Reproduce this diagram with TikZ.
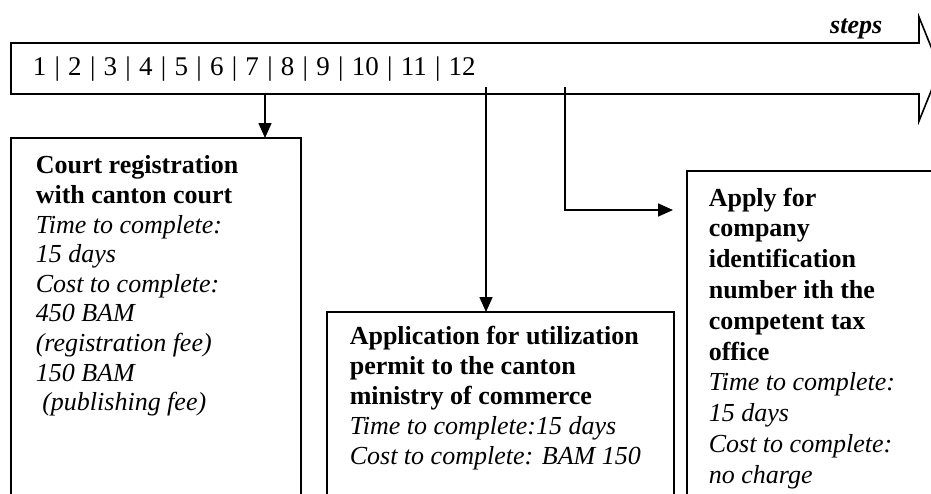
\documentclass[tikz,border=0pt]{standalone}
\usepackage{fontspec}
\setmainfont{Liberation Serif}
\usetikzlibrary{arrows.meta}

\begin{document}
\begin{tikzpicture}[x=1pt, y=-1pt, line width=1.6pt,
  box/.style={draw, rectangle, inner sep=0pt, outer sep=0pt, anchor=north west},
  txt/.style={inner sep=0pt, anchor=north west, align=left, font=\fontsize{26}{29.6}\selectfont},
  link/.style={-{Triangle[length=15pt,width=13pt]}}]
  \useasboundingbox (0,0) rectangle (931,493);
  \clip (0,0) rectangle (931,493);

  % band with the steps
  \draw (11,43) -- (919,43) -- (919,17) -- (940,69) -- (919,121) -- (919,94) -- (11,94) -- cycle;
  \node[txt, anchor=base east, font=\fontsize{26}{29.6}\selectfont\bfseries\itshape] (steps) at (883,33) {steps};
  \node[txt, anchor=base west, font=\fontsize{27}{30}\selectfont] (nums) at (32,75)
    {\makebox[443pt][s]{1 | 2 | 3 | 4 | 5 | 6 | 7 | 8 | 9 | 10 | 11 | 12}};

  \coordinate (s7)  at (265,94);
  \coordinate (s12) at (486,87);
  \coordinate (s13) at (565,87);

  % the three procedures
  \node[box, minimum width=290, minimum height=400] (court)  at (11,138) {};
  \node[box, minimum width=347, minimum height=250] (permit) at (327,312) {};
  \node[box, minimum width=300, minimum height=400] (taxid)  at (687,171) {};
  \coordinate (t13) at (673,210);

  \draw[link] (s7)  -- (s7 |- court.north);
  \draw[link] (s12) -- (s12 |- permit.north);
  \draw[link] (s13) |- (t13);

  \node[txt] (courttxt) at (35,155) {\textbf{Court registration}\\
    \textbf{with canton court}\\
    \textit{Time to complete:}\\
    \textit{15 days}\\
    \textit{Cost to complete:}\\
    \textit{450 BAM}\\
    \textit{(registration fee)}\\
    \textit{150 BAM}\\
    \hspace{0.25em}\textit{(publishing fee)}};
  \node[txt, font=\fontsize{26}{30}\selectfont] (permittxt) at (349,325) {\textbf{Application for utilization}\\
    \textbf{permit to the canton}\\
    \textbf{ministry of commerce}\\
    \textit{Time to complete:15 days}\\
    \textit{Cost to complete: BAM 150}};
  \node[txt, font=\fontsize{26}{30.8}\selectfont] (taxidtxt) at (708,187) {\textbf{Apply for}\\
    \textbf{company}\\
    \textbf{identification}\\
    \textbf{number ith the}\\
    \textbf{competent tax}\\
    \textbf{office}\\
    \textit{Time to complete:}\\
    \textit{15 days}\\
    \textit{Cost to complete:}\\
    \textit{no charge}};
\end{tikzpicture}
\end{document}
